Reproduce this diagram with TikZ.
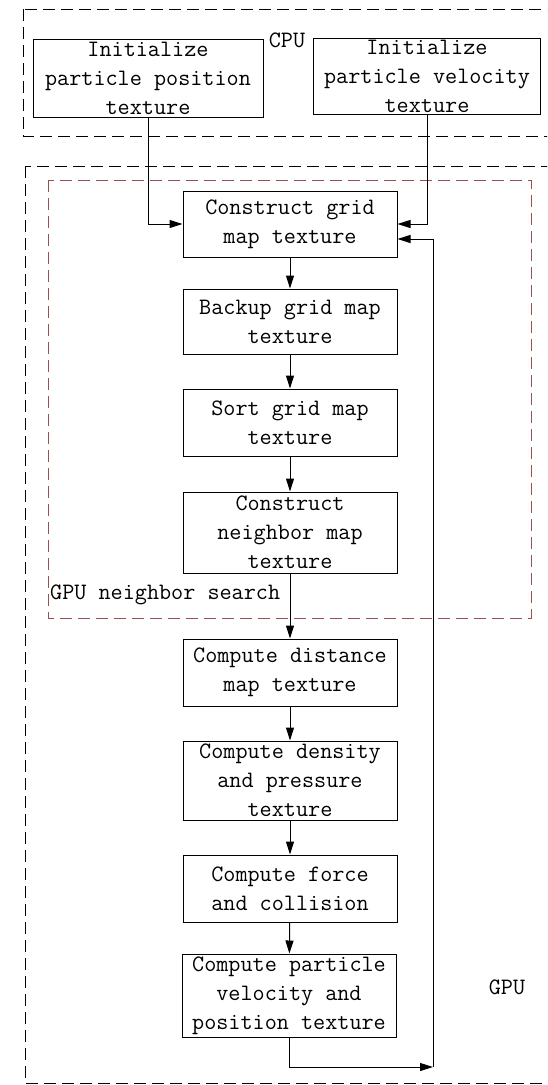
\documentclass[tikz,border=0pt]{standalone}
\usepackage{fontspec}
\usetikzlibrary{arrows.meta}
\definecolor{searchbox}{RGB}{150, 80, 80}

\begin{document}
\begin{tikzpicture}[x=1pt, y=-1pt,
    stage/.style={draw, line width=1pt, minimum width=214pt, inner sep=0pt, align=center, font=\ttfamily\fontsize{23.5}{29}\selectfont},
    tag/.style={inner sep=0pt, font=\ttfamily\fontsize{23.5}{29}\selectfont},
    region/.style={line width=0.9pt, dash pattern=on 12pt off 6pt},
    flow/.style={line width=1pt, -{Triangle[length=13pt, width=8pt]}}]
    \useasboundingbox (0,0) rectangle (547,1085);
    \clip (0,0) rectangle (547,1085);

    \draw[region] (23,9) rectangle (560,136);
    \draw[region] (25,166) rectangle (560,1083);
    \draw[region, searchbox] (48,180) rectangle (531,618);

    \node[tag] (cpu) at (287,40) {CPU};
    \node[tag] (gpu) at (507,987) {GPU};
    \node[tag, anchor=west] (search) at (50,595) {GPU neighbor search};

    \node[stage, minimum width=230pt, minimum height=78pt] (initpos) at (148,78) {Initialize\\particle position\\texture};
    \node[stage, minimum width=227pt, minimum height=76pt] (initvel) at (427,76) {Initialize\\particle velocity\\texture};

    \node[stage, minimum height=66pt] (grid) at (290,224) {Construct grid\\map texture};
    \node[stage, minimum height=65pt] (backup) at (290,321.5) {Backup grid map\\texture};
    \node[stage, minimum height=67pt] (sort) at (290,422.5) {Sort grid map\\texture};
    \node[stage, minimum height=81pt] (neighbor) at (290,532.5) {Construct\\neighbor map\\texture};
    \node[stage, minimum height=67pt] (distance) at (290,672.5) {Compute distance\\map texture};
    \node[stage, minimum height=79pt] (density) at (290,780.5) {Compute density\\and pressure\\texture};
    \node[stage, minimum height=67pt] (force) at (290,888.5) {Compute force\\and collision};
    \node[stage, minimum height=83pt] (particle) at (289,995.5) {Compute particle\\velocity and\\position texture};

    \draw[flow] (initpos.south) |- (grid.west);
    \draw[flow] (initvel.south) |- (grid.east);

    \foreach \a/\b in {grid/backup, backup/sort, sort/neighbor, neighbor/distance, distance/density, density/force, force/particle}
        \draw[flow] (\a) -- (\b);

    \coordinate (turn) at (433,1067);
    \draw[flow] (particle.south) |- (turn);
    \draw[flow] (turn) |- ([yshift=-15pt]grid.east);
\end{tikzpicture}
\end{document}
